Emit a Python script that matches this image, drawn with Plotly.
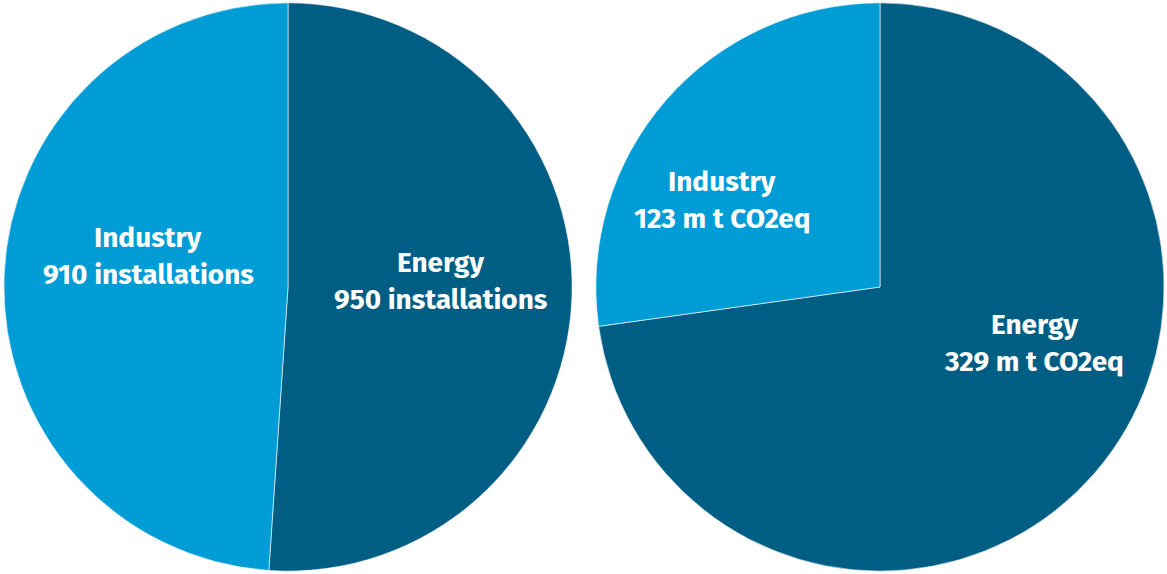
import plotly.graph_objects as go

categories = ["Energy", "Industry"]
installations = [950, 910]
emissions = [329, 123]
inst_unit = "installations"
emis_unit = "m t CO2eq"

DARK = "#005e84"
LIGHT = "#009cd5"
W, H = 1167, 574

fig = go.Figure()
fig.add_trace(go.Pie(
    labels=categories, values=installations, sort=False, direction="clockwise",
    rotation=0, marker=dict(colors=[DARK, LIGHT], line=dict(color="white", width=0.6)),
    textinfo="none", hoverinfo="label+value", showlegend=False,
    domain=dict(x=[0.0, 576 / W], y=[0.005, 0.995]),
))
fig.add_trace(go.Pie(
    labels=categories, values=emissions, sort=False, direction="clockwise",
    rotation=0, marker=dict(colors=[DARK, LIGHT], line=dict(color="white", width=0.6)),
    textinfo="none", hoverinfo="label+value", showlegend=False,
    domain=dict(x=[(880 - 287) / W, (880 + 287) / W], y=[0.005, 0.995]),
))

# label block centres (pixels)
label_pos = {
    ("left", "Energy"): (440, 281),
    ("left", "Industry"): (148, 256),
    ("right", "Energy"): (1034, 343),
    ("right", "Industry"): (722, 200),
}
font = dict(family="Fira Sans, Noto Sans, sans-serif", size=28, color="white")
anns = []
for side, vals, unit in [("left", installations, inst_unit), ("right", emissions, emis_unit)]:
    for cat, v in zip(categories, vals):
        cx, cy = label_pos[(side, cat)]
        for dy, txt in [(-18.5, f"<b>{cat}</b>"), (18.5, f"<b>{v} {unit}</b>")]:
            anns.append(dict(x=cx / W, y=1 - (cy + dy) / H, xref="paper", yref="paper",
                             text=txt, showarrow=False, font=font,
                             xanchor="center", yanchor="middle"))

fig.update_layout(
    width=W, height=H, margin=dict(l=0, r=0, t=0, b=0),
    paper_bgcolor="white", plot_bgcolor="white", annotations=anns,
)
fig.write_html("out.html")
